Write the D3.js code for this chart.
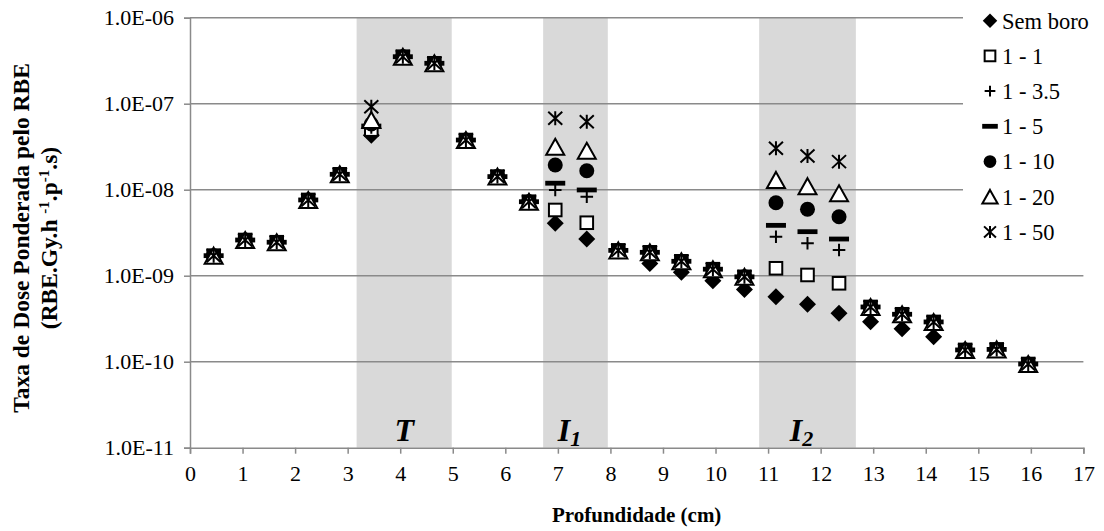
<!DOCTYPE html>
<html><head><meta charset="utf-8">
<script src="https://cdn.jsdelivr.net/npm/d3@7"></script>
<style>
body{margin:0;background:#fff}
svg{display:block}
text{font-family:"Liberation Serif","Times New Roman","DejaVu Serif",serif;fill:#000}
</style>
</head><body>
<svg id="c" width="1104" height="531"></svg>
<script>
// ---- data ----
const depth = [0.45,1.05,1.65,2.25,2.85,3.45,4.05,4.65,5.25,5.85,6.45,6.95,7.55,8.15,8.75,9.35,9.95,10.55,11.15,11.75,12.35,12.95,13.55,14.15,14.75,15.35,15.95];
const semBoro = [1.71e-9,2.60e-9,2.45e-9,7.6e-9,1.51e-8,4.3e-8,3.52e-7,2.95e-7,3.78e-8,1.42e-8,7.25e-9,4.07e-9,2.67e-9,1.95e-9,1.39e-9,1.10e-9,8.75e-10,6.9e-10,5.7e-10,4.65e-10,3.66e-10,2.92e-10,2.42e-10,1.95e-10,1.37e-10,1.39e-10,9.4e-11];
const r1_1 = [1.71e-9,2.60e-9,2.45e-9,7.6e-9,1.51e-8,5.0e-8,3.52e-7,2.95e-7,3.78e-8,1.42e-8,7.25e-9,5.81e-9,4.13e-9,1.97e-9,1.87e-9,1.47e-9,1.19e-9,9.7e-10,1.22e-9,1.02e-9,8.16e-10,4.33e-10,3.56e-10,2.9e-10,1.37e-10,1.39e-10,9.4e-11];
const r1_35 = [1.71e-9,2.60e-9,2.45e-9,7.6e-9,1.51e-8,5.3e-8,3.52e-7,2.95e-7,3.78e-8,1.42e-8,7.25e-9,9.93e-9,8.3e-9,1.97e-9,1.87e-9,1.47e-9,1.19e-9,9.7e-10,2.84e-9,2.38e-9,1.99e-9,4.33e-10,3.56e-10,2.9e-10,1.37e-10,1.39e-10,9.4e-11];
const r1_5 = [1.71e-9,2.60e-9,2.45e-9,7.6e-9,1.51e-8,5.5e-8,3.52e-7,2.95e-7,3.78e-8,1.42e-8,7.25e-9,1.19e-8,9.93e-9,1.97e-9,1.87e-9,1.47e-9,1.19e-9,9.7e-10,3.85e-9,3.25e-9,2.67e-9,4.33e-10,3.56e-10,2.9e-10,1.37e-10,1.39e-10,9.4e-11];
const r1_10 = [1.71e-9,2.60e-9,2.45e-9,7.6e-9,1.51e-8,5.8e-8,3.52e-7,2.95e-7,3.78e-8,1.42e-8,7.25e-9,1.94e-8,1.66e-8,1.97e-9,1.87e-9,1.47e-9,1.19e-9,9.7e-10,7.06e-9,5.92e-9,4.85e-9,4.33e-10,3.56e-10,2.9e-10,1.37e-10,1.39e-10,9.4e-11];
const r1_20 = [1.71e-9,2.60e-9,2.45e-9,7.6e-9,1.51e-8,6.46e-8,3.52e-7,2.95e-7,3.78e-8,1.42e-8,7.25e-9,3.16e-8,2.84e-8,1.97e-9,1.87e-9,1.47e-9,1.19e-9,9.7e-10,1.30e-8,1.10e-8,9.08e-9,4.33e-10,3.56e-10,2.9e-10,1.37e-10,1.39e-10,9.4e-11];
const r1_50 = [1.71e-9,2.60e-9,2.45e-9,7.6e-9,1.51e-8,9.23e-8,3.52e-7,2.95e-7,3.78e-8,1.42e-8,7.25e-9,6.76e-8,6.18e-8,1.97e-9,1.87e-9,1.47e-9,1.19e-9,9.7e-10,3.03e-8,2.47e-8,2.12e-8,4.33e-10,3.56e-10,2.9e-10,1.37e-10,1.39e-10,9.4e-11];

const seriesNames = ["Sem boro","1 - 1","1 - 3.5","1 - 5","1 - 10","1 - 20","1 - 50"];
const seriesValues = [semBoro, r1_1, r1_35, r1_5, r1_10, r1_20, r1_50];
const seriesMarkers = ["diamond","square","plus","dash","circle","triangle","star"];

const yTicks = [1e-11,1e-10,1e-9,1e-8,1e-7,1e-6];
const xTicks = d3.range(0, 18);
const regionStart = [3.17, 6.72, 10.83];
const regionEnd = [4.98, 7.95, 12.67];
const regionLabel = ["T","I","I"];
const regionSub = ["","1","2"];

// ---- layout ----
const FONT = '"Liberation Serif","Times New Roman","DejaVu Serif",serif';
const svg = d3.select("#c");
const x = d3.scaleLinear().domain([0,17]).range([190,1083.4]);
const y = d3.scaleLog().domain([1e-11,1e-6]).range([447.7,17.7]);
const gridColor = "#8a8a8a";

// shaded regions
svg.append("g").selectAll("rect").data(regionStart).join("rect")
  .attr("x", (d)=>x(d)).attr("width", (d,i)=>x(regionEnd[i])-x(d))
  .attr("y", y(1e-6)).attr("height", y(1e-11)-y(1e-6))
  .attr("fill", "#d9d9d9");

// gridlines
svg.append("g").selectAll("line").data(yTicks.slice(1)).join("line")
  .attr("x1", x(0)).attr("x2", x(17))
  .attr("y1", d=>y(d)).attr("y2", d=>y(d))
  .attr("stroke", gridColor).attr("stroke-width", 1.5);

// y axis
const fmt = d => { const e = Math.round(Math.log10(d)); return "1.0E-" + String(-e).padStart(2,"0"); };
const yAxis = d3.axisLeft(y).tickValues(yTicks).tickFormat(fmt).tickSize(6).tickPadding(10);
const gy = svg.append("g").attr("transform", `translate(${x(0)},0)`).call(yAxis).attr("font-family", FONT);
gy.select(".domain").attr("stroke", gridColor).attr("stroke-width", 1.5);
gy.selectAll(".tick line").attr("stroke", gridColor).attr("stroke-width", 1.5);
gy.selectAll(".tick text").style("font-size","22px").style("font-family",FONT).attr("fill","#000");

// x axis
const xAxis = d3.axisBottom(x).tickValues(xTicks).tickFormat(d3.format("d")).tickSize(6).tickPadding(12);
const gx = svg.append("g").attr("transform", `translate(0,${y(1e-11)})`).call(xAxis).attr("font-family", FONT);
gx.select(".domain").attr("stroke", gridColor).attr("stroke-width", 1.5);
gx.selectAll(".tick line").attr("stroke", gridColor).attr("stroke-width", 1.5);
gx.selectAll(".tick text").style("font-size","22px").style("font-family",FONT).attr("fill","#000");

// region labels
const rl = svg.append("g").selectAll("text").data(regionStart).join("text")
  .attr("x", (d,i)=>(x(d)+x(regionEnd[i]))/2 - (regionSub[i]?6:0))
  .attr("y", 441)
  .attr("text-anchor","middle")
  .style("font-size","32px").style("font-weight","bold").style("font-style","italic");
rl.append("tspan").text((d,i)=>regionLabel[i]);
rl.append("tspan").attr("dy", 5).style("font-size","22px").text((d,i)=>regionSub[i]);

// markers
function drawMarker(g, type, s) {
  if (type === "diamond") {
    const r = 8.5*s;
    g.append("path").attr("d", `M0,${-r}L${r},0L0,${r}L${-r},0Z`).attr("fill","#000");
  } else if (type === "square") {
    const h = 6.3*s;
    g.append("rect").attr("x",-h).attr("y",-h).attr("width",2*h).attr("height",2*h)
      .attr("fill","#fff").attr("stroke","#000").attr("stroke-width",2);
  } else if (type === "plus") {
    const h = 6.3*s;
    g.append("path").attr("d", `M${-h},0H${h}M0,${-h}V${h}`).attr("stroke","#000").attr("stroke-width",2);
  } else if (type === "dash") {
    const w = (s===1?10:7.8), t = 2.4;
    g.append("rect").attr("x",-w).attr("y",-t).attr("width",2*w).attr("height",2*t).attr("fill","#000");
  } else if (type === "circle") {
    g.append("circle").attr("r", 7.5*s).attr("fill","#000");
  } else if (type === "triangle") {
    const w = 9*s, h = 8*s;
    g.append("path").attr("d", `M0,${-h}L${w},${h}L${-w},${h}Z`)
      .attr("fill","#fff").attr("stroke","#000").attr("stroke-width",2).attr("stroke-linejoin","miter");
  } else if (type === "star") {
    const w = 7*s, h = 6.5*s;
    g.append("path").attr("d", `M${-w},${-h}L${w},${h}M${w},${-h}L${-w},${h}M0,${-h-0.5}V${h+0.5}`)
      .attr("stroke","#000").attr("stroke-width",2).attr("fill","none");
  }
}

const gm = svg.append("g");
seriesValues.forEach((vals, si) => {
  const gs = gm.append("g");
  gs.selectAll("g").data(vals).join("g")
    .attr("transform", (d,i)=>`translate(${x(depth[i])},${y(d)})`)
    .each(function(){ drawMarker(d3.select(this), seriesMarkers[si], 1); });
});

// legend
const lg = svg.append("g");
lg.append("rect").attr("x", 963).attr("y", 0).attr("width", 141).attr("height", 252).attr("fill","#fff");
seriesNames.forEach((n, i) => {
  const cy = 20.7 + i*35.2;
  const m = lg.append("g").attr("transform", `translate(990,${cy})`);
  drawMarker(m, seriesMarkers[i], 0.85);
  lg.append("text").attr("x", 1002).attr("y", cy).attr("dy","0.35em")
    .style("font-size","22.5px").text(n);
});

// axis titles
svg.append("text").attr("x", (x(0)+x(17))/2).attr("y", 522).attr("text-anchor","middle")
  .style("font-size","21px").style("font-weight","bold").text("Profundidade (cm)");

const yt = svg.append("text").attr("transform","translate(0,238) rotate(-90)")
  .attr("text-anchor","middle").style("font-size","23.5px").style("font-weight","bold");
yt.append("tspan").attr("x",0).attr("y",29).text("Taxa de Dose Ponderada pelo RBE");
const l2 = yt.append("tspan").attr("x",0).attr("y",57);
l2.append("tspan").text("(RBE.Gy.h ");
l2.append("tspan").attr("dy",-8).style("font-size","15px").text("-1");
l2.append("tspan").attr("dy",8).text(".p");
l2.append("tspan").attr("dy",-8).style("font-size","15px").text("-1");
l2.append("tspan").attr("dy",8).text(".s)");
</script>
</body></html>
